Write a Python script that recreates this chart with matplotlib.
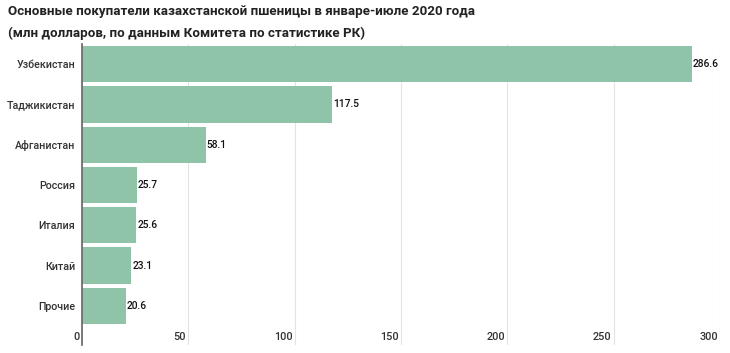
import matplotlib.pyplot as plt
import matplotlib.transforms as mtransforms

countries = ["Узбекистан", "Таджикистан", "Афганистан", "Россия", "Италия", "Китай", "Прочие"]
values = [286.6, 117.5, 58.1, 25.7, 25.6, 23.1, 20.6]
ticks = [0, 50, 100, 150, 200, 250, 300]

plt.rcParams['font.family'] = ['Roboto', 'DejaVu Sans']

fig = plt.figure(figsize=(7.3, 3.53), dpi=100)
ax = fig.add_axes([82 / 730, 8 / 353, 638 / 730, 301 / 353])

ypos = list(range(len(countries)))
ax.barh(ypos, values, height=0.9, color="#8fc4a8", zorder=2)
for y, v in zip(ypos, values):
    ax.text(v + 0.5, y, f"{v}", va="center", ha="left", fontsize=7.4,
            fontweight="medium", color="#111111", zorder=3)

ax.set_xlim(0, 300)
ax.set_ylim(6.97, -0.5)
ax.set_yticks(ypos)
ax.set_yticklabels(countries, fontsize=7.7, fontweight="medium", color="#333333")
ax.tick_params(axis="y", length=0, pad=5)
ax.set_xticks(ticks)
ax.set_xticklabels([])
ax.tick_params(axis="x", length=0)
ax.grid(axis="x", color="#e3e3e3", linewidth=0.8, zorder=0)

trans = mtransforms.blended_transform_factory(ax.transData, ax.transAxes)
for t in ticks:
    ax.text(t - 1, 0.01, str(t), transform=trans, ha="right", va="bottom",
            fontsize=7.8, fontweight="medium", color="#333333")

for s in ["top", "right", "bottom"]:
    ax.spines[s].set_visible(False)
ax.spines["left"].set_color("#666666")
ax.spines["left"].set_linewidth(1.2)
ax.spines["left"].set_zorder(4)

fig.text(8 / 730, 1 - 12 / 353, "Основные покупатели казахстанской пшеницы в январе-июле 2020 года",
         fontsize=9.65, fontweight="bold", va="center", ha="left", color="#222222")
fig.text(8 / 730, 1 - 33 / 353, "(млн долларов, по данным Комитета по статистике РК)",
         fontsize=9.65, fontweight="bold", va="center", ha="left", color="#222222")

fig.savefig("out.png", dpi=100)
